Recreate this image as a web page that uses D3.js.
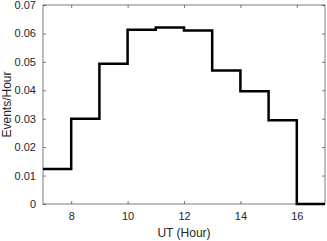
<!DOCTYPE html>
<html>
<head>
<meta charset="utf-8">
<script src="https://cdn.jsdelivr.net/npm/d3@7"></script>
<style>
  body { margin: 0; background: #fff; }
  svg { display: block; font-family: "Liberation Sans", Arial, sans-serif; }
</style>
</head>
<body>
<div id="chart"></div>
<script>
// bin edges (UT hour) and events per hour in each bin
var binStart = [7, 8, 9, 10, 11, 12, 13, 14, 15, 16];
var rates = [0.0123, 0.0300, 0.0493, 0.0613, 0.0621, 0.0610, 0.0470, 0.0397, 0.0295, 0];
var xTicks = [8, 10, 12, 14, 16];
var yTicks = [0, 0.01, 0.02, 0.03, 0.04, 0.05, 0.06, 0.07];

var W = 327, H = 241;
var m = { left: 43, right: 2, top: 5, bottom: 37 };
var iw = W - m.left - m.right, ih = H - m.top - m.bottom;

var svg = d3.select('#chart').append('svg').attr('width', W).attr('height', H);
var g = svg.append('g').attr('transform', 'translate(' + m.left + ',' + m.top + ')');

var x = d3.scaleLinear().domain([7, 17]).range([0, iw]);
var y = d3.scaleLinear().domain([0, 0.07]).range([ih, 0]);

// stairs: one point per bin start plus the closing edge
var pts = binStart.map(function(b, i){ return [b, rates[i]]; });
pts.push([17, rates[rates.length - 1]]);

var line = d3.line()
  .x(function(d){ return x(d[0]); })
  .y(function(d){ return y(d[1]); })
  .curve(d3.curveStepAfter);

function styleAxis(sel, labels){
  sel.select('.domain').remove();
  sel.selectAll('.tick line').attr('stroke', '#262626').attr('stroke-width', 0.6);
  sel.selectAll('.tick text').attr('fill', '#262626').style('font-size', '11px');
  if (!labels) sel.selectAll('.tick text').remove();
}

var fmtY = function(d){ return d === 0 ? '0' : d3.format('.2f')(d); };

g.append('g').attr('transform', 'translate(0,' + ih + ')')
  .call(d3.axisBottom(x).tickValues(xTicks).tickSizeInner(-3).tickSizeOuter(0).tickPadding(8))
  .call(styleAxis, true);
g.append('g')
  .call(d3.axisTop(x).tickValues(xTicks).tickSizeInner(-3).tickSizeOuter(0))
  .call(styleAxis, false);
g.append('g')
  .call(d3.axisLeft(y).tickValues(yTicks).tickFormat(fmtY).tickSizeInner(-3).tickSizeOuter(0).tickPadding(7))
  .call(styleAxis, true);
g.append('g').attr('transform', 'translate(' + iw + ',0)')
  .call(d3.axisRight(y).tickValues(yTicks).tickSizeInner(-3).tickSizeOuter(0))
  .call(styleAxis, false);

g.append('rect').attr('width', iw).attr('height', ih)
  .attr('fill', 'none').attr('stroke', '#262626').attr('stroke-width', 0.6);

g.append('path').datum(pts)
  .attr('d', line)
  .attr('fill', 'none')
  .attr('stroke', '#000')
  .attr('stroke-width', 2.5);

svg.append('text')
  .attr('x', m.left + iw / 2).attr('y', H - 4)
  .attr('text-anchor', 'middle').attr('fill', '#262626')
  .style('font-size', '12px').text('UT (Hour)');

svg.append('text')
  .attr('transform', 'translate(11,' + (m.top + ih / 2) + ') rotate(-90)')
  .attr('text-anchor', 'middle').attr('fill', '#262626')
  .style('font-size', '12px').text('Events/Hour');
</script>
</body>
</html>
